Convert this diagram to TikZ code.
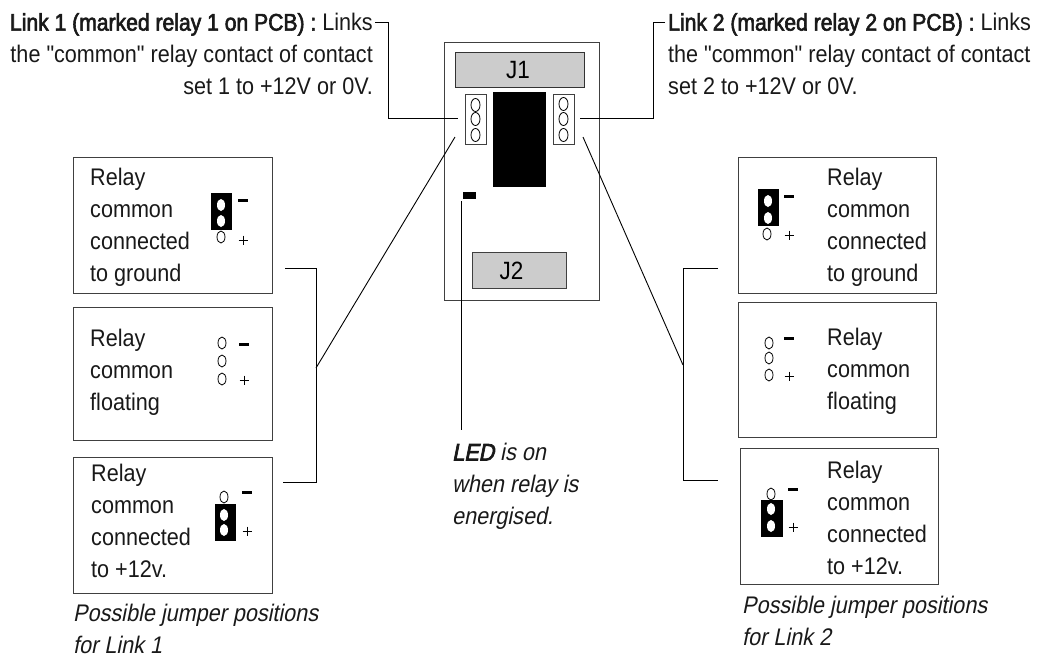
\documentclass[tikz,border=0pt]{standalone}
\usepackage{fontspec}
\usetikzlibrary{shapes.geometric}
\setmainfont{Liberation Sans}[FakeStretch=0.90,Ligatures=TeXOff]
\newfontfamily\boldish{Liberation Sans}[FakeStretch=0.88,FakeBold=2.5]
\newfontfamily\ital{Liberation Sans}[FakeStretch=0.90,FakeSlant=0.2]
\newfontfamily\italb{Liberation Sans}[FakeStretch=0.90,FakeSlant=0.2,FakeBold=3]
\tikzset{
  box/.style={draw=black!75,line width=1.2pt,fill=white,inner sep=0pt,rectangle},
  link/.style={draw=black,line width=0.9pt},
  lbl/.style={font=\fontsize{24}{32}\selectfont,align=left,anchor=north west,inner sep=0pt,text=black!90},
  head/.style={font=\fontsize{24}{32}\selectfont,inner sep=0pt,text=black!90},
  captxt/.style={font=\ital\fontsize{24}{32}\selectfont,align=left,anchor=north west,inner sep=0pt,text=black!90},
  pin/.style={ellipse,draw=black,line width=0.8pt,minimum width=8pt,minimum height=12pt,inner sep=0pt,fill=white},
  hole/.style={ellipse,fill=white,minimum width=8pt,minimum height=12pt,inner sep=0pt},
}
\newcommand{\openpins}[4]{\node[pin] at (#1,#2){};\node[pin] at (#1,#3){};\node[pin] at (#1,#4){};}
\newcommand{\linked}[6]{\fill[black] (#4,#5) rectangle (#4+21.5,#6);\node[hole] at (#1,#2){};\node[hole] at (#1,#3){};}
\newcommand{\signs}[3]{\fill[black] (#1-5,#2-1.5) rectangle (#1+5,#2+1.5);\draw[line width=0.9pt] (#1-4.5,#3)--(#1+4.5,#3) (#1,#3-4.5)--(#1,#3+4.5);}
\begin{document}
\begin{tikzpicture}[x=1pt,y=-1pt]
\useasboundingbox (0,0) rectangle (1039,657);
% board
\node[box,minimum width=155pt,minimum height=258pt,anchor=north west] (board) at (444,42) {};
\node[box,draw=black!80,fill=black!20,minimum width=129pt,minimum height=35pt,anchor=north west,font=\fontsize{25}{28}\selectfont] (jone) at (455,52) {J1\hbox to 4pt{}};
\node[box,fill=black!20,minimum width=94pt,minimum height=36pt,anchor=north west,font=\fontsize{25}{28}\selectfont] (jtwo) at (472,252) {J2\hbox to 16pt{}};
\node[box,line width=0.9pt,minimum width=21pt,minimum height=50pt,anchor=north west] (hl) at (465,94) {};
\node[box,line width=0.9pt,minimum width=21pt,minimum height=50pt,anchor=north west] (hr) at (553,94) {};
\begin{scope}[pin/.append style={minimum width=9pt,minimum height=13pt}]
\openpins{475.5}{105}{119}{135}
\openpins{563.5}{104}{119}{135}
\end{scope}
\node[fill=black,minimum width=53pt,minimum height=95pt,inner sep=0pt,anchor=north west] (relay) at (493,92) {};
\node[fill=black,minimum width=13pt,minimum height=7pt,inner sep=0pt,anchor=north west] (led) at (463,192) {};
% left boxes
\node[box,minimum width=199pt,minimum height=136pt,anchor=north west] (la) at (73,157) {};
\node[box,minimum width=199pt,minimum height=133pt,anchor=north west] (lb) at (73,307) {};
\node[box,minimum width=199pt,minimum height=136pt,anchor=north west] (lc) at (73,457) {};
\node[lbl] (lat) at (90,168) {Relay\\common\\connected\\to ground};
\node[lbl] (lbt) at (90,329) {Relay\\common\\floating};
\node[lbl] (lct) at (91,464) {Relay\\common\\connected\\to +12v.};
\linked{221}{205}{221}{210.5}{193}{230}
\node[pin] at (221,237){};
\signs{243}{200}{240}
\openpins{222}{343}{361}{379}
\signs{244}{344}{380}
\node[pin] at (224,497){};
\linked{224}{515}{530}{214.5}{504}{541}
\signs{247}{492}{531}
% right boxes
\node[box,minimum width=198pt,minimum height=136pt,anchor=north west] (ra) at (738,157) {};
\node[box,minimum width=198pt,minimum height=135pt,anchor=north west] (rb) at (738,302) {};
\node[box,minimum width=198pt,minimum height=136pt,anchor=north west] (rc) at (740,448) {};
\node[lbl] (rat) at (827,168) {Relay\\common\\connected\\to ground};
\node[lbl] (rbt) at (827,328) {Relay\\common\\floating};
\node[lbl] (rct) at (827,461) {Relay\\common\\connected\\to +12v.};
\linked{768}{201}{218}{757.5}{189}{226}
\node[pin] at (767,234){};
\signs{789}{196}{235}
\openpins{769}{343}{358}{375}
\signs{789}{338}{376}
\node[pin] at (771,494){};
\linked{771}{509}{526}{761}{500}{537}
\signs{793}{489}{527}
% head texts
\node[head,align=right,anchor=north east] (tl) at (373,13) {{\boldish Link 1 (marked relay 1 on PCB) :} Links\\the "common" relay contact of contact\\set 1 to +12V or 0V.};
\node[head,align=left,anchor=north west] (tr) at (668,13) {{\boldish Link 2 (marked relay 2 on PCB) :} Links\\the "common" relay contact of contact\\set 2 to +12V or 0V.};
\node[captxt] (capl) at (73,604) {Possible jumper positions\\for Link 1};
\node[captxt] (capr) at (742,596) {Possible jumper positions\\for Link 2};
\node[captxt] (ledt) at (452,443) {{\italb LED} is on\\when relay is\\energised.};
% connectors
\coordinate (h1) at (375,22);
\coordinate (h1k) at (388,22);
\coordinate (h2) at (665,22);
\coordinate (h2k) at (653,22);
\coordinate (j1) at (458,118);
\coordinate (j2) at (580,118);
\coordinate (d1) at (455,137);
\coordinate (d2) at (583,137);
\coordinate (b1) at (316,368);
\coordinate (b2) at (683,365);
\draw[link] (h1) -- (h1k) -- (h1k |- j1) -- (j1);
\draw[link] (h2) -- (h2k) -- (h2k |- j2) -- (j2);
\draw[link] (d1) -- (b1);
\draw[link] (d2) -- (b2);
\draw[link] (285,268) -- (316,268) -- (316,482) -- (283,482);
\draw[link] (718,268) -- (683,268) -- (683,480) -- (718,480);
\draw[link] (led.south west) ++(-2,2) -- (461,430);
\end{tikzpicture}
\end{document}
